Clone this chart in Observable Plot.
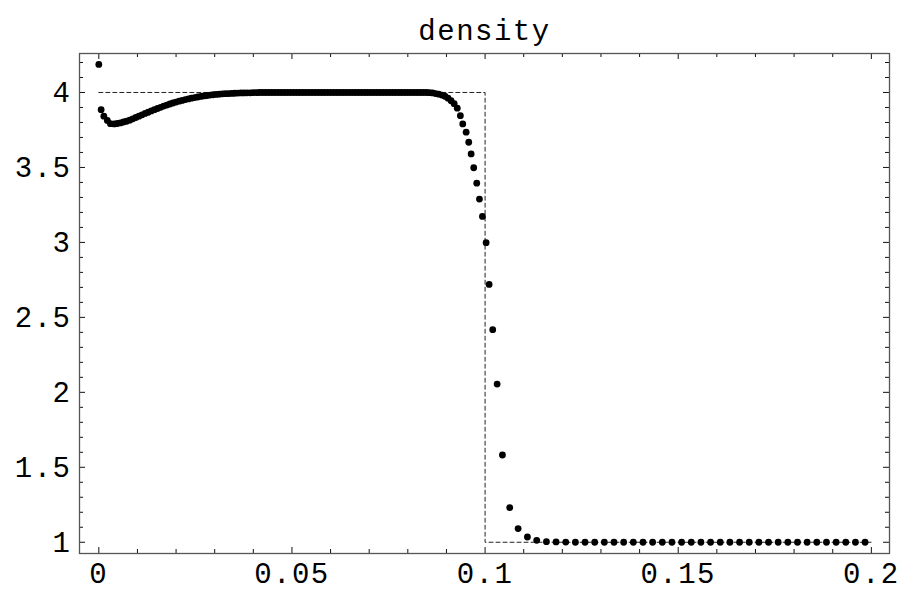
<!DOCTYPE html>
<html>
<head>
<meta charset="utf-8">
<script src="https://cdn.jsdelivr.net/npm/d3@7"></script>
<script src="https://cdn.jsdelivr.net/npm/@observablehq/plot@0.6"></script>
<style>
  html, body { margin: 0; padding: 0; background: white; }
</style>
</head>
<body>
<div id="chart"></div>
<script>
// ---- data ----
const title = "density";

// numerical solution (dots): start of the domain
const startX = [0, 0.0006, 0.0013, 0.0022, 0.003];
const startY = [4.187, 3.885, 3.842, 3.813, 3.792];

// compressed (dense) region, where the dots merge into a band
const denseX = [
  0.0040, 0.0048, 0.0056, 0.0064, 0.0072, 0.0080, 0.0088, 0.0096, 0.0104, 0.0112,
  0.0120, 0.0128, 0.0136, 0.0144, 0.0152, 0.0160, 0.0168, 0.0176, 0.0184, 0.0192,
  0.0200, 0.0208, 0.0216, 0.0224, 0.0232, 0.0240, 0.0248, 0.0256, 0.0264, 0.0272,
  0.0280, 0.0288, 0.0296, 0.0304, 0.0312, 0.0320, 0.0328, 0.0336, 0.0344, 0.0352,
  0.0360, 0.0368, 0.0376, 0.0384, 0.0392, 0.0400, 0.0408, 0.0416, 0.0424, 0.0432,
  0.0440, 0.0448, 0.0456, 0.0464, 0.0472, 0.0480, 0.0488, 0.0496, 0.0504, 0.0512,
  0.0520, 0.0528, 0.0536, 0.0544, 0.0552, 0.0560, 0.0568, 0.0576, 0.0584, 0.0592,
  0.0600, 0.0608, 0.0616, 0.0624, 0.0632, 0.0640, 0.0648, 0.0656, 0.0664, 0.0672,
  0.0680, 0.0688, 0.0696, 0.0704, 0.0712, 0.0720, 0.0728, 0.0736, 0.0744, 0.0752,
  0.0760, 0.0768, 0.0776, 0.0784, 0.0792, 0.0800, 0.0808, 0.0816, 0.0824, 0.0832,
  0.0840, 0.0848, 0.0856, 0.0864, 0.0872, 0.0880, 0.0888, 0.0896, 0.0904, 0.0912,
  0.0920, 0.0928, 0.0936
];
const denseY = [
  3.790, 3.793, 3.797, 3.803, 3.808, 3.815, 3.824, 3.833, 3.842, 3.851,
  3.860, 3.868, 3.877, 3.885, 3.893, 3.901, 3.909, 3.916, 3.923, 3.930,
  3.936, 3.942, 3.947, 3.953, 3.957, 3.962, 3.966, 3.970, 3.974, 3.977,
  3.980, 3.983, 3.985, 3.987, 3.989, 3.991, 3.992, 3.993, 3.994, 3.995,
  3.996, 3.997, 3.997, 3.998, 3.998, 3.999, 3.999, 4.0, 4.0, 4.0,
  4.0, 4.0, 4.0, 4.0, 4.0, 4.0, 4.0, 4.0, 4.0, 4.0,
  4.0, 4.0, 4.0, 4.0, 4.0, 4.0, 4.0, 4.0, 4.0, 4.0,
  4.0, 4.0, 4.0, 4.0, 4.0, 4.0, 4.0, 4.0, 4.0, 4.0,
  4.0, 4.0, 4.0, 4.0, 4.0, 4.0, 4.0, 4.0, 4.0, 4.0,
  4.0, 4.0, 4.0, 4.0, 4.0, 4.0, 4.0, 4.0, 4.0, 4.0,
  4.0, 4.0, 3.999, 3.997, 3.993, 3.989, 3.983, 3.975, 3.962, 3.945,
  3.925, 3.895, 3.845
];

// shock and undisturbed region: separate dots
const shockX = [
  0.09422, 0.0951, 0.09577, 0.09639, 0.09706, 0.09784, 0.09854, 0.09932, 0.10027,
  0.10105, 0.10198, 0.10312, 0.10449, 0.10638, 0.10855, 0.11096, 0.11337, 0.11588,
  0.11838, 0.12088, 0.12338, 0.12588, 0.12838, 0.13088, 0.13338, 0.13588, 0.13838,
  0.14088, 0.14338, 0.14588, 0.14838, 0.15088, 0.15338, 0.15588, 0.15838, 0.16088,
  0.16338, 0.16588, 0.16838, 0.17088, 0.17338, 0.17588, 0.17838, 0.18088, 0.18338,
  0.18588, 0.18838, 0.19088, 0.19338, 0.19588, 0.19838
];
const shockY = [
  3.790, 3.735, 3.668, 3.590, 3.498, 3.395, 3.289, 3.173, 2.998,
  2.720, 2.418, 2.055, 1.582, 1.231, 1.091, 1.035, 1.013, 1.004,
  1.002, 1.001, 1.0, 1.0, 1.0, 1.0, 1.0, 1.0, 1.0,
  1.0, 1.0, 1.0, 1.0, 1.0, 1.0, 1.0, 1.0, 1.0,
  1.0, 1.0, 1.0, 1.0, 1.0, 1.0, 1.0, 1.0, 1.0,
  1.0, 1.0, 1.0, 1.0, 1.0, 1.0
];

// exact solution (dashed)
const exactX = [0, 0.1, 0.1, 0.2];
const exactY = [4, 4, 1, 1];

// ticks
const xMajor = [0, 0.05, 0.1, 0.15, 0.2];
const xTickLabels = ["0", "0.05", "0.1", "0.15", "0.2"];
const xMinor = [0.01, 0.02, 0.03, 0.04, 0.06, 0.07, 0.08, 0.09, 0.11, 0.12, 0.13, 0.14, 0.16, 0.17, 0.18, 0.19];
const yMajor = [1, 1.5, 2, 2.5, 3, 3.5, 4];
const yTickLabels = ["1", "1.5", "2", "2.5", "3", "3.5", "4"];
const yMinor = [1.1, 1.2, 1.3, 1.4, 1.6, 1.7, 1.8, 1.9, 2.1, 2.2, 2.3, 2.4, 2.6, 2.7, 2.8, 2.9,
                3.1, 3.2, 3.3, 3.4, 3.6, 3.7, 3.8, 3.9, 4.1, 4.2];

// ---- layout ----
const W = 904, H = 592;
const mL = 79, mR = 15, mT = 53, mB = 39;
const fw = W - mL - mR, fh = H - mT - mB;
const majorLen = 6, minorLen = 4;

const allX = [...startX, ...denseX, ...shockX];
const allY = [...startY, ...denseY, ...shockY];
const dots = allX.map((x, i) => ({x, y: allY[i]}));
const exact = exactX.map((x, i) => ({x, y: exactY[i]}));

const tickColor = "#111";

const chart = Plot.plot({
  width: W,
  height: H,
  marginLeft: mL,
  marginRight: mR,
  marginTop: mT,
  marginBottom: mB,
  style: {
    fontFamily: "'Liberation Mono', 'Courier New', 'DejaVu Sans Mono', monospace",
    fontSize: "29px",
    background: "white",
    color: "black"
  },
  x: {domain: [-0.005, 0.2047], axis: null},
  y: {domain: [0.925, 4.26], axis: null},
  marks: [
    // ticks (inward, on all four sides)
    Plot.tickX(xMajor, {x: d => d, insetTop: fh - majorLen, stroke: tickColor}),
    Plot.tickX(xMinor, {x: d => d, insetTop: fh - minorLen, stroke: tickColor}),
    Plot.tickX(xMajor, {x: d => d, insetBottom: fh - majorLen, stroke: tickColor}),
    Plot.tickX(xMinor, {x: d => d, insetBottom: fh - minorLen, stroke: tickColor}),
    Plot.tickY(yMajor, {y: d => d, insetRight: fw - majorLen, stroke: tickColor}),
    Plot.tickY(yMinor, {y: d => d, insetRight: fw - minorLen, stroke: tickColor}),
    Plot.tickY(yMajor, {y: d => d, insetLeft: fw - majorLen, stroke: tickColor}),
    Plot.tickY(yMinor, {y: d => d, insetLeft: fw - minorLen, stroke: tickColor}),
    // tick labels
    Plot.text(xMajor, {
      x: d => d, text: (d, i) => xTickLabels[i], frameAnchor: "bottom",
      lineAnchor: "top", dy: 9, fill: "black", fontSize: 29
    }),
    Plot.text(yMajor, {
      y: d => d, text: (d, i) => yTickLabels[i], frameAnchor: "left",
      textAnchor: "end", dx: -8, fill: "black", fontSize: 29
    }),
    // exact solution
    Plot.line(exact, {x: "x", y: "y", stroke: "#222", strokeWidth: 1, strokeDasharray: "4,3"}),
    // numerical solution
    Plot.dot(dots, {x: "x", y: "y", r: 3.4, fill: "black", stroke: null}),
    // title
    Plot.text([title], {text: d => d, frameAnchor: "top", dy: -34, fill: "black", fontSize: 29}),
    Plot.frame({stroke: "#555", strokeWidth: 1.3})
  ]
});

// letter spacing for the Courier-like look
chart.querySelectorAll("text").forEach(t => t.setAttribute("letter-spacing", "1.5"));
document.getElementById("chart").appendChild(chart);
</script>
</body>
</html>
